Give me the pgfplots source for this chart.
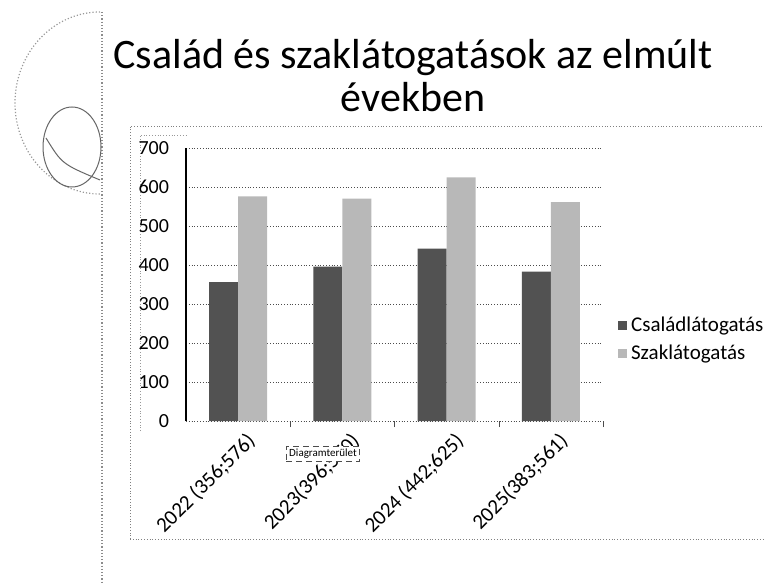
\documentclass[border=0pt]{standalone}
\usepackage{fontspec}
\setmainfont{Carlito}
\usepackage{pgfplots}
\pgfplotsset{compat=1.18}
\begin{document}
\begin{tikzpicture}[x=0.5pt,y=0.5pt]
\path[use as bounding box] (0,0) rectangle (764,584);
% decoration on the left
\draw[black!45, densely dotted, line width=0.6pt] (102,572) -- (102,0);
\draw[black!40, densely dotted, line width=0.6pt] (100,572) arc[start angle=90, end angle=270, x radius=85, y radius=91];
\draw[black!60, line width=0.5pt] (72,437) ellipse [x radius=29, y radius=40];
\draw[black!60, line width=0.5pt] (46,446) .. controls (62,420) .. (100,404);
% title
\node[font=\fontsize{21}{25}\selectfont, anchor=base] at (413,515) {Család és szaklátogatások az elmúlt};
\node[font=\fontsize{21}{25}\selectfont, anchor=base] at (413,472) {években};
% chart area border
\draw[black!50, densely dotted] (130,45) -- (130,458) -- (764,458);
\draw[black!50, densely dotted] (130,45) -- (764,45);
\draw[black!40, densely dotted] (140,153) -- (140,449) -- (187,449);
\begin{axis}[
  at={(93pt,81.5pt)}, anchor=south west, scale only axis,
  width=208.5pt, height=136.5pt,
  ybar=0pt, bar width=14.5pt,
  xmin=-0.5, xmax=3.5, ymin=0, ymax=700,
  ytick={0,100,...,700},
  xtick={0,1,2,3},
  xticklabels={2022 (356;576),2023(396;570),2024 (442;625),2025(383;561)},
  extra x ticks={0.5,1.5,2.5,3.5},
  extra x tick labels={},
  extra x tick style={major tick length=3pt, tick align=outside, xmajorgrids=false, tick style={black!70}},
  axis x line*=bottom, axis y line*=left,
  x axis line style={densely dotted, black!70},
  y axis line style={black, line width=0.6pt},
  major tick length=0pt,
  ymajorgrids, major grid style={densely dotted, black!70, line width=0.4pt},
  /pgf/number format/assume math mode=true,
  yticklabel style={font=\fontsize{10}{11}\selectfont, xshift=-5pt},
  xticklabel style={rotate=45, anchor=north east, font=\fontsize{10.5}{12}\selectfont, inner sep=1pt, yshift=-5pt},
  legend style={draw=none, fill=none, at={(1.035,0.298)}, anchor=west,
    font=\fontsize{10.5}{12}\selectfont, row sep=1pt, inner sep=0pt, legend cell align=left},
  legend image code/.code={\draw[#1, draw=none] (0cm,-0.08cm) rectangle (0.16cm,0.08cm);},
]
\addplot[fill=black!68, draw=none] coordinates {(0,356) (1,396) (2,442) (3,383)};
\addplot[fill=black!28, draw=none] coordinates {(0,576) (1,570) (2,625) (3,561)};
\legend{Családlátogatás, Szaklátogatás}
\end{axis}
\node[draw=black!70, densely dashed, fill=white, font=\fontsize{5.5}{6}\selectfont, inner sep=1.5pt] at (323,130) {Diagramterület};
\end{tikzpicture}
\end{document}
